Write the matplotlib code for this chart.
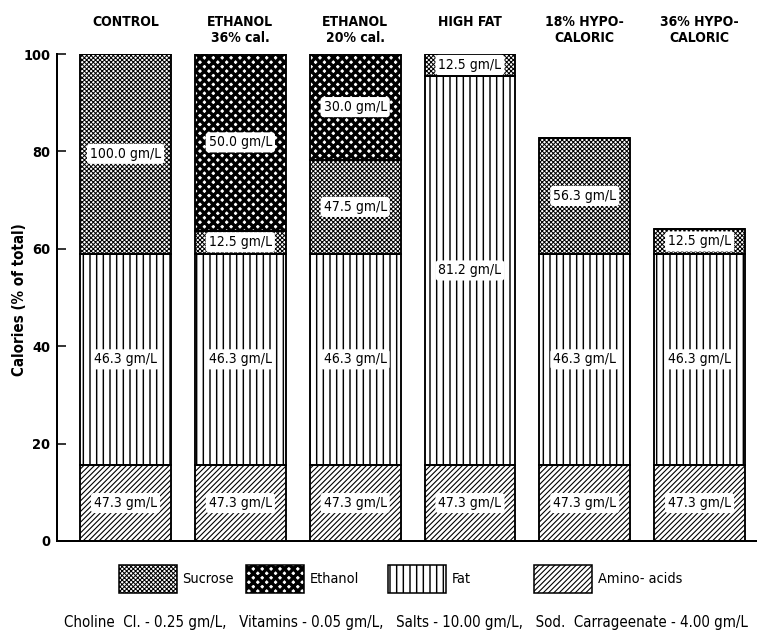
import matplotlib
matplotlib.use("Agg")
import matplotlib.pyplot as plt
from matplotlib import font_manager
from matplotlib.patches import Patch
import numpy as np

# diet groups and calorie share of each component (% of total)
groups = ["CONTROL", "ETHANOL\n36% cal.", "ETHANOL\n20% cal.", "HIGH FAT",
          "18% HYPO-\nCALORIC", "36% HYPO-\nCALORIC"]
amino = [15.6, 15.6, 15.6, 15.6, 15.6, 15.6]
fat = [43.4, 43.4, 43.4, 79.9, 43.4, 43.4]
sucrose = [41.0, 4.7, 19.2, 4.5, 23.7, 5.0]
ethanol = [0.0, 36.3, 21.8, 0.0, 0.0, 0.0]

amino_lbl = ["47.3 gm/L"] * 6
fat_lbl = ["46.3 gm/L", "46.3 gm/L", "46.3 gm/L", "81.2 gm/L", "46.3 gm/L", "46.3 gm/L"]
sucrose_lbl = ["100.0 gm/L", "12.5 gm/L", "47.5 gm/L", "12.5 gm/L", "56.3 gm/L", "12.5 gm/L"]
ethanol_lbl = [None, "50.0 gm/L", "30.0 gm/L", None, None, None]

yticks = [0, 20, 40, 60, 80, 100]
legend_names = ["Sucrose", "Ethanol", "Fat", "Amino- acids"]
footnote = ("Choline  Cl. - 0.25 gm/L,   Vitamins - 0.05 gm/L,   "
            "Salts - 10.00 gm/L,   Sod.  Carrageenate - 4.00 gm/L")

# pick a condensed face if one is installed
ttf = font_manager.fontManager.ttflist
if any("DejaVuSansCondensed" in f.fname for f in ttf):
    fam, stretch = "DejaVu Sans", "condensed"
elif any(f.name == "Liberation Sans Narrow" for f in ttf):
    fam, stretch = "Liberation Sans Narrow", "normal"
else:
    fam, stretch = "DejaVu Sans", "normal"
plt.rcParams["font.family"] = [fam]
plt.rcParams["font.stretch"] = stretch


def hatch_lw(artist, lw):
    if hasattr(artist, "set_hatch_linewidth"):
        artist.set_hatch_linewidth(lw)
    orig = artist.draw

    def draw(renderer):
        with plt.rc_context({"hatch.linewidth": lw}):
            orig(renderer)
    artist.draw = draw


DPI = 80
fig = plt.figure(figsize=(757 / DPI, 632 / DPI), dpi=DPI)
ax = fig.add_axes([57 / 757, 1 - 541 / 632, 700 / 757, 487 / 632])

x = np.arange(len(groups))
w = 0.79

layers = [
    (amino, amino_lbl, "/////", 1.0, "Amino- acids"),
    (fat, fat_lbl, "||", 1.3, "Fat"),
    (sucrose, sucrose_lbl, "xxxxxx", 0.9, "Sucrose"),
    (ethanol, ethanol_lbl, "xxx", 3.0, "Ethanol"),
]

bottom = np.zeros(len(groups))
styles = {}
for vals, lbls, hatch, hlw, name in layers:
    vals = np.array(vals)
    bars = ax.bar(x, vals, w, bottom=bottom, color="white", edgecolor="black",
                  hatch=hatch, linewidth=0)
    for b in bars:
        hatch_lw(b, hlw)
    for xi, v, b0, t in zip(x, vals, bottom, lbls):
        if t is None or v <= 0:
            continue
        ax.text(xi, b0 + v / 2, t, ha="center", va="center", fontsize=12.5,
                bbox=dict(boxstyle="round,pad=0.22", fc="white", ec="none"))
    styles[name] = (hatch, hlw)
    bottom = bottom + vals

# outlines of whole segments
bottom = np.zeros(len(groups))
for vals, *_ in layers:
    vals = np.array(vals)
    ax.bar(x, vals, w, bottom=bottom, fill=False, edgecolor="black", linewidth=1.7)
    bottom = bottom + vals

for xi, g in zip(x, groups):
    ax.text(xi, 108.0, g, ha="center", va="top", fontsize=12.5, fontweight="bold",
            linespacing=1.2, clip_on=False)

ax.set_xlim(-0.597, 5.50)
ax.set_ylim(0, 100)
ax.set_xticks([])
ax.set_yticks(yticks)
ax.set_yticklabels([str(t) for t in yticks], fontsize=13, fontweight="bold")
ax.tick_params(axis="y", direction="in", length=8, width=1.4, pad=6)
for s in ["top", "right"]:
    ax.spines[s].set_visible(False)
ax.spines["left"].set_linewidth(1.8)
ax.spines["bottom"].set_linewidth(1.8)
ax.set_ylabel("Calories (% of total)", fontsize=13.5, fontweight="bold")
ax.yaxis.set_label_coords(-0.043, 0.495)

# one legend entry per key, placed like the original figure
legend_x = [119, 246, 388, 534]
for name, lx in zip(legend_names, legend_x):
    hatch, hlw = styles[name]
    h = Patch(facecolor="white", edgecolor="black", hatch=hatch, linewidth=1.4)
    leg = fig.legend([h], [name], loc="center left",
                     bbox_to_anchor=(lx / 757, 1 - 579 / 632), frameon=False,
                     fontsize=13, handlelength=4.0, handleheight=2.7,
                     handletextpad=0.4, borderpad=0, borderaxespad=0)
    for p in leg.get_patches():
        hatch_lw(p, hlw)

fig.text(406 / 757, 1 - 622 / 632, footnote, ha="center", va="center", fontsize=13.5)

fig.savefig("out.png", dpi=DPI)
